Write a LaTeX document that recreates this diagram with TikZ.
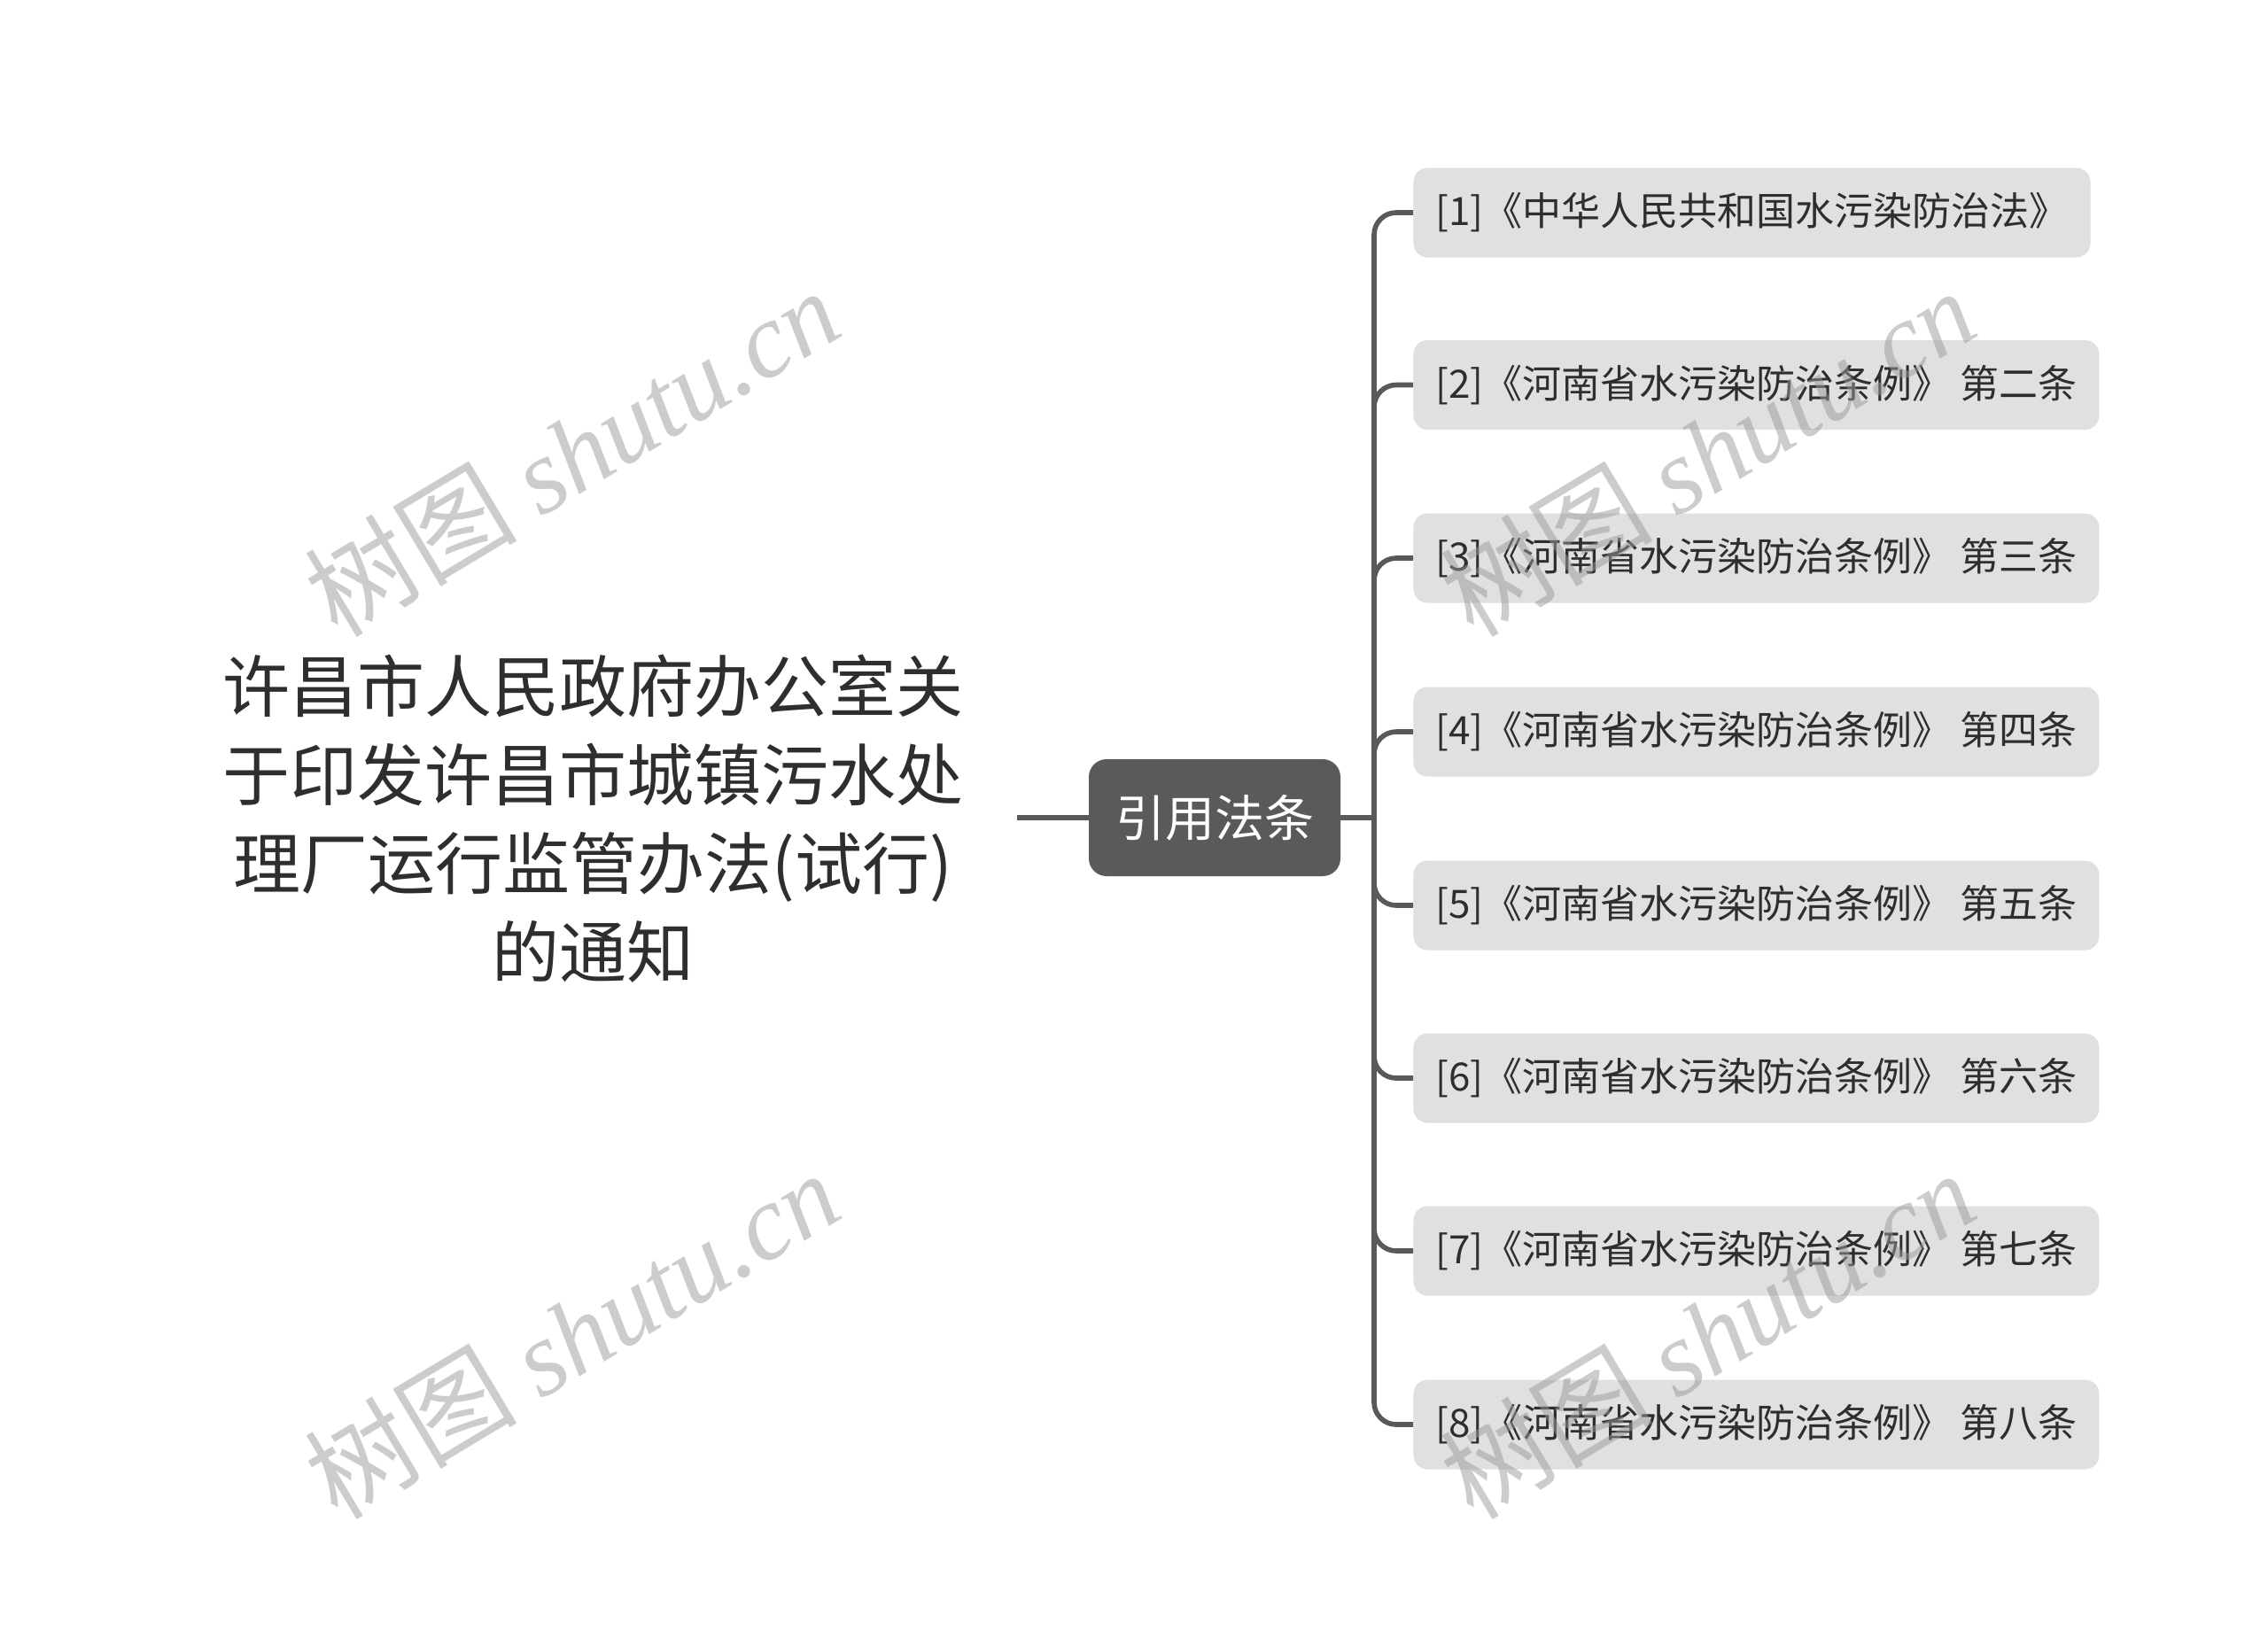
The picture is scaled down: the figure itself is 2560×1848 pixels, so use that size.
\documentclass[tikz,border=0pt]{standalone}
\usepackage{fontspec}
\setmainfont{Noto Sans CJK SC}
\newfontfamily\wmcjk{Noto Sans CJK SC}
\newfontfamily\wmlat{Liberation Serif}
\definecolor{linegray}{HTML}{595959}
\definecolor{hubgray}{HTML}{5A5A5A}
\definecolor{boxgray}{HTML}{E0E0E0}
\definecolor{txt}{HTML}{2E2E2E}
\definecolor{wm}{HTML}{9A9A9A}
\tikzset{
  roottext/.style={align=center, text=txt, font=\fontsize{38pt}{50pt}\selectfont, inner sep=0pt},
  hubbox/.style={fill=hubgray, rounded corners=10pt, text=white, minimum width=142pt, minimum height=66pt, inner sep=0pt, font=\fontsize{28pt}{34pt}\selectfont},
  leaf/.style={fill=boxgray, rounded corners=8pt, text=txt, anchor=west, minimum height=50.5pt, inner xsep=12.5pt, inner ysep=0pt, font=\fontsize{22pt}{26pt}\selectfont},
  conn/.style={draw=linegray, line width=2.8pt},
  branch/.style={conn, rounded corners=12.5pt},
  wmark/.style={text=wm, opacity=0.5, rotate=31, inner sep=0pt}
}
\begin{document}
\begin{tikzpicture}[x=0.5pt,y=-0.5pt]
\useasboundingbox[fill=white] (0,0) rectangle (2560,1848);
\node[roottext] (root) at (669,924) {许昌市人民政府办公室关\\于印发许昌市城镇污水处\\理厂运行监管办法(试行)\\的通知};
\node[hubbox] (hub) at (1371,923) {引用法条};
\coordinate (rootout) at (1148,923);
\coordinate (trunk) at (1551,923);
\node[leaf] (c1) at (1595,240) {[1]《中华人民共和国水污染防治法》};
\node[leaf] (c2) at (1595,434.5) {[2]《河南省水污染防治条例》 第二条};
\node[leaf] (c3) at (1595,630) {[3]《河南省水污染防治条例》 第三条};
\node[leaf] (c4) at (1595,826) {[4]《河南省水污染防治条例》 第四条};
\node[leaf] (c5) at (1595,1022) {[5]《河南省水污染防治条例》 第五条};
\node[leaf] (c6) at (1595,1217) {[6]《河南省水污染防治条例》 第六条};
\node[leaf] (c7) at (1595,1412) {[7]《河南省水污染防治条例》 第七条};
\node[leaf] (c8) at (1595,1608) {[8]《河南省水污染防治条例》 第八条};
\draw[conn] (rootout) -- (hub.west);
\draw[conn] (hub.east) -- (trunk);
\foreach \c in {c1,c2,c3,c4,c5,c6,c7,c8}{
  \draw[branch] (trunk) |- (\c.west);
}
\foreach \p/\n in {{(645,510)}/w1,{(645,1506)}/w2,{(1927,510)}/w3,{(1927,1506)}/w4}{
  \node[wmark] (\n) at \p {\fontsize{60pt}{64pt}\wmcjk 树图\ \wmlat\itshape shutu.cn};
}
\end{tikzpicture}
\end{document}
